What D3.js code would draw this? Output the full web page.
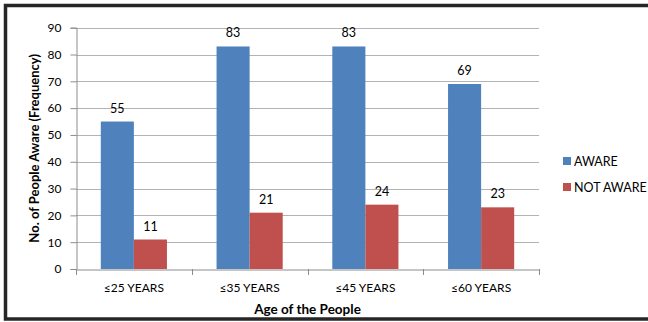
<!DOCTYPE html>
<html>
<head>
<meta charset="utf-8">
<script src="https://cdn.jsdelivr.net/npm/d3@7"></script>
<style>
  html, body { margin: 0; padding: 0; background: #fff; }
  svg { display: block; font-family: Lato, "Open Sans", sans-serif; }
</style>
</head>
<body>
<svg id="chart" width="648" height="322"></svg>
<script>
// Awareness by age group
const categories = ["≤25 YEARS", "≤35 YEARS", "≤45 YEARS", "≤60 YEARS"];
const seriesNames = ["AWARE", "NOT AWARE"];
const aware = [55, 83, 83, 69];
const notAware = [11, 21, 24, 23];
const yTicks = [0, 10, 20, 30, 40, 50, 60, 70, 80, 90];
const colors = ["#4f81bd", "#c0504d"];

const svg = d3.select("#chart");
const W = 648, H = 322;
const plot = { left: 76, right: 539, top: 27.7, bottom: 269 };

// Outer frame (right side runs off the canvas)
svg.append("path")
  .attr("d", `M${W + 4},5.5 H5.5 V${H - 3} H${W + 4}`)
  .attr("fill", "none")
  .attr("stroke", "#262626")
  .attr("stroke-width", 3.5);

const x0 = d3.scaleBand()
  .domain(categories)
  .range([plot.left, plot.right])
  .paddingInner(0)
  .paddingOuter(0);

// Two bars per group with 150% gap: bars take 2/3.5 of the band
const barW = x0.bandwidth() / 3.5;
const x1 = d3.scaleBand()
  .domain(seriesNames)
  .range([0, barW * 2]);

const y = d3.scaleLinear().domain([0, 90]).range([plot.bottom, plot.top]);

// Gridlines
svg.append("g")
  .selectAll("line")
  .data(yTicks.filter(d => d > 0))
  .join("line")
  .attr("x1", plot.left).attr("x2", plot.right)
  .attr("y1", d => Math.round(y(d)) + 0.5).attr("y2", d => Math.round(y(d)) + 0.5)
  .attr("stroke", "#b3b3b3").attr("stroke-width", 1);

// Y axis
const yAxis = svg.append("g")
  .attr("transform", `translate(${plot.left + 0.5},0)`)
  .call(d3.axisLeft(y).tickValues(yTicks).tickSize(6).tickPadding(9));
yAxis.select(".domain").attr("stroke", "#8c8c8c");
yAxis.selectAll(".tick line").attr("stroke", "#8c8c8c");
yAxis.selectAll(".tick text")
  .attr("font-size", 12).attr("fill", "#000")
  .attr("font-family", "Lato, sans-serif");

// X axis
const xAxis = svg.append("g")
  .attr("transform", `translate(0,${Math.round(plot.bottom) + 0.5})`)
  .call(d3.axisBottom(x0).tickSize(0).tickPadding(14));
xAxis.select(".domain").attr("stroke", "#8c8c8c");
xAxis.selectAll(".tick text")
  .attr("font-size", 12).attr("fill", "#000")
  .attr("font-family", "Lato, sans-serif");
// Category boundary ticks
svg.append("g")
  .selectAll("line")
  .data(categories.map(c => x0(c)).concat([x0.range()[1]]))
  .join("line")
  .attr("x1", d => Math.round(d) + 0.5).attr("x2", d => Math.round(d) + 0.5)
  .attr("y1", Math.round(plot.bottom)).attr("y2", Math.round(plot.bottom) + 6)
  .attr("stroke", "#8c8c8c");

// Bars
const rows = categories.map((c, i) => ({ cat: c, vals: [aware[i], notAware[i]] }));
const groups = svg.append("g")
  .selectAll("g")
  .data(rows)
  .join("g")
  .attr("transform", d => `translate(${x0(d.cat) + (x0.bandwidth() - barW * 2) / 2},0)`);

groups.selectAll("rect")
  .data(d => d.vals.map((v, j) => ({ name: seriesNames[j], v, j })))
  .join("rect")
  .attr("x", d => x1(d.name))
  .attr("width", x1.bandwidth())
  .attr("y", d => y(d.v))
  .attr("height", d => y(0) - y(d.v))
  .attr("fill", d => colors[d.j]);

groups.selectAll("text")
  .data(d => d.vals.map((v, j) => ({ name: seriesNames[j], v, j })))
  .join("text")
  .attr("x", d => x1(d.name) + x1.bandwidth() / 2)
  .attr("y", d => y(d.v) - 9)
  .attr("text-anchor", "middle")
  .attr("font-size", 12.5)
  .attr("fill", "#000")
  .text(d => d.v);

// Axis titles
svg.append("text")
  .attr("x", (plot.left + plot.right) / 2)
  .attr("y", 313.5)
  .attr("text-anchor", "middle")
  .attr("font-size", 13.5)
  .attr("font-weight", "bold")
  .text("Age of the People");

svg.append("text")
  .attr("transform", `translate(38.5,${(plot.top + plot.bottom) / 2}) rotate(-90)`)
  .attr("text-anchor", "middle")
  .attr("font-size", 13)
  .attr("font-weight", "bold")
  .text("No. of People Aware (Frequency)");

// Legend
const legend = svg.append("g")
  .selectAll("g")
  .data(seriesNames)
  .join("g")
  .attr("transform", (d, i) => `translate(563,${157 + i * 26})`);
legend.append("rect")
  .attr("width", 8).attr("height", 8)
  .attr("fill", (d, i) => colors[i]);
legend.append("text")
  .attr("x", 11).attr("y", 8.5)
  .attr("font-size", 12.5)
  .attr("fill", "#000")
  .text(d => d);
</script>
</body>
</html>
